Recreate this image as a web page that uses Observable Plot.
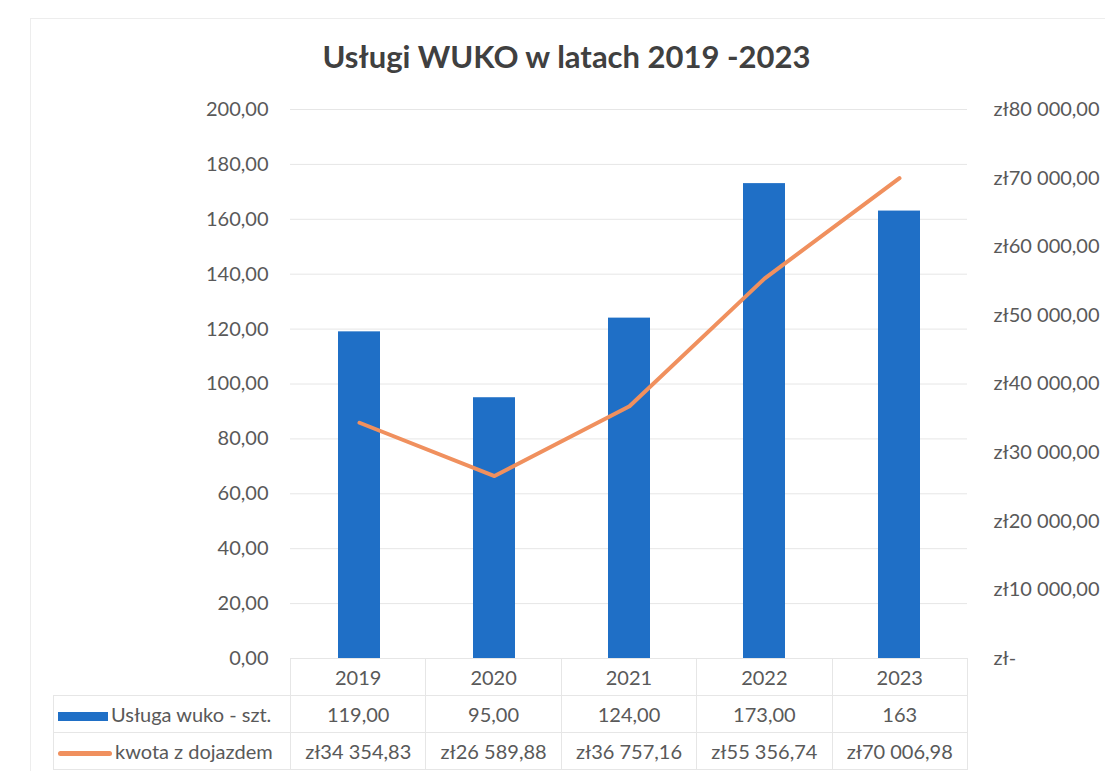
<!DOCTYPE html>
<html><head><meta charset="utf-8">
<script src="https://cdn.jsdelivr.net/npm/d3@7"></script>
<script src="https://cdn.jsdelivr.net/npm/@observablehq/plot@0.6"></script>
<style>
body{margin:0;background:#fff;font-family:Lato,"Open Sans",sans-serif;}
#wrap{position:relative;width:1105px;height:771px;overflow:hidden;background:#fff;}
#frame{position:absolute;left:30px;top:18px;width:1100px;height:770px;border:1px solid #ededed;box-sizing:border-box;}
#title{position:absolute;left:0;width:1133px;top:37px;text-align:center;font-weight:700;font-size:31px;color:#404040;letter-spacing:0px;}
#chart{position:absolute;left:0;top:0;}
#tbl{position:absolute;left:53px;top:658px;border-collapse:collapse;color:#595959;font-size:20px;table-layout:fixed;}
#tbl td{border:1px solid #e6e6e6;text-align:center;padding:0;height:36px;white-space:nowrap;}
#tbl td.leg{text-align:left;padding-left:4px;}
#tbl td.blank{border:none;}
.sw{display:inline-block;vertical-align:middle;margin-right:3px;}
</style></head>
<body><div id="wrap"><div id="frame"></div><div id="chart"></div><div id="title"></div><table id="tbl"></table></div>
<script>
const titleText = "Usługi WUKO w latach 2019 -2023";
const years = ["2019", "2020", "2021", "2022", "2023"];
const counts = [119, 95, 124, 173, 163];
const amounts = [34354.83, 26589.88, 36757.16, 55356.74, 70006.98];
const countLabels = ["119,00", "95,00", "124,00", "173,00", "163"];
const seriesNames = ["Usługa wuko - szt.", "kwota z dojazdem"];
const leftTicks = [0, 20, 40, 60, 80, 100, 120, 140, 160, 180, 200];
const rightTicks = [0, 10000, 20000, 30000, 40000, 50000, 60000, 70000, 80000];
const barColor = "#1f6fc6";
const lineColor = "#f0905e";

const ratio = 80000 / 200;
const loc = d3.formatLocale({decimal: ",", thousands: "\u00a0", grouping: [3], currency: ["zł", ""]});
const f2 = loc.format(",.2f");
const fz = loc.format("$,.2f");
const zl = v => v === 0 ? "zł-" : fz(v);

const data = years.map((y, i) => ({year: y, count: counts[i], amount: amounts[i], scaled: amounts[i] / ratio}));

const chart = Plot.plot({
  width: 1105, height: 771,
  marginTop: 109, marginBottom: 113, marginLeft: 290, marginRight: 138,
  style: {fontFamily: "Lato, 'Open Sans', sans-serif", fontSize: "20px", color: "#595959", background: "transparent"},
  x: {type: "band", domain: years, paddingInner: 0.69, paddingOuter: 0.345, axis: null},
  y: {domain: [0, 200], axis: null},
  marks: [
    Plot.gridY(leftTicks, {stroke: "#e6e6e6", strokeOpacity: 1}),
    Plot.barY(data, {x: "year", y: "count", fill: barColor}),
    Plot.lineY(data, {x: "year", y: "scaled", stroke: lineColor, strokeWidth: 4}),
    Plot.axisY({anchor: "left", ticks: leftTicks, tickFormat: f2, tickSize: 0, tickPadding: 22}),
    Plot.axisY({anchor: "right", ticks: rightTicks.map(v => v / ratio), tickFormat: d => zl(Math.round(d * ratio)), tickSize: 0, tickPadding: 26})
  ]
});
document.getElementById("chart").appendChild(chart);
document.getElementById("title").textContent = titleText;

const colW = 135.4;
let html = '<colgroup><col style="width:237px">' + years.map(() => `<col style="width:${colW}px">`).join("") + '</colgroup>';
html += '<tr><td class="blank"></td>' + years.map(y => `<td>${y}</td>`).join("") + '</tr>';
html += `<tr><td class="leg"><span class="sw" style="width:50px;height:9px;background:${barColor}"></span>${seriesNames[0]}</td>` + countLabels.map(c => `<td>${c}</td>`).join("") + '</tr>';
html += `<tr><td class="leg"><span class="sw" style="width:54px;height:5px;border-radius:3px;background:${lineColor}"></span>${seriesNames[1]}</td>` + amounts.map(a => `<td>${zl(a)}</td>`).join("") + '</tr>';
const tbl = document.getElementById("tbl");
tbl.innerHTML = html;
tbl.style.width = (237 + colW * 5) + "px";
</script></body></html>
